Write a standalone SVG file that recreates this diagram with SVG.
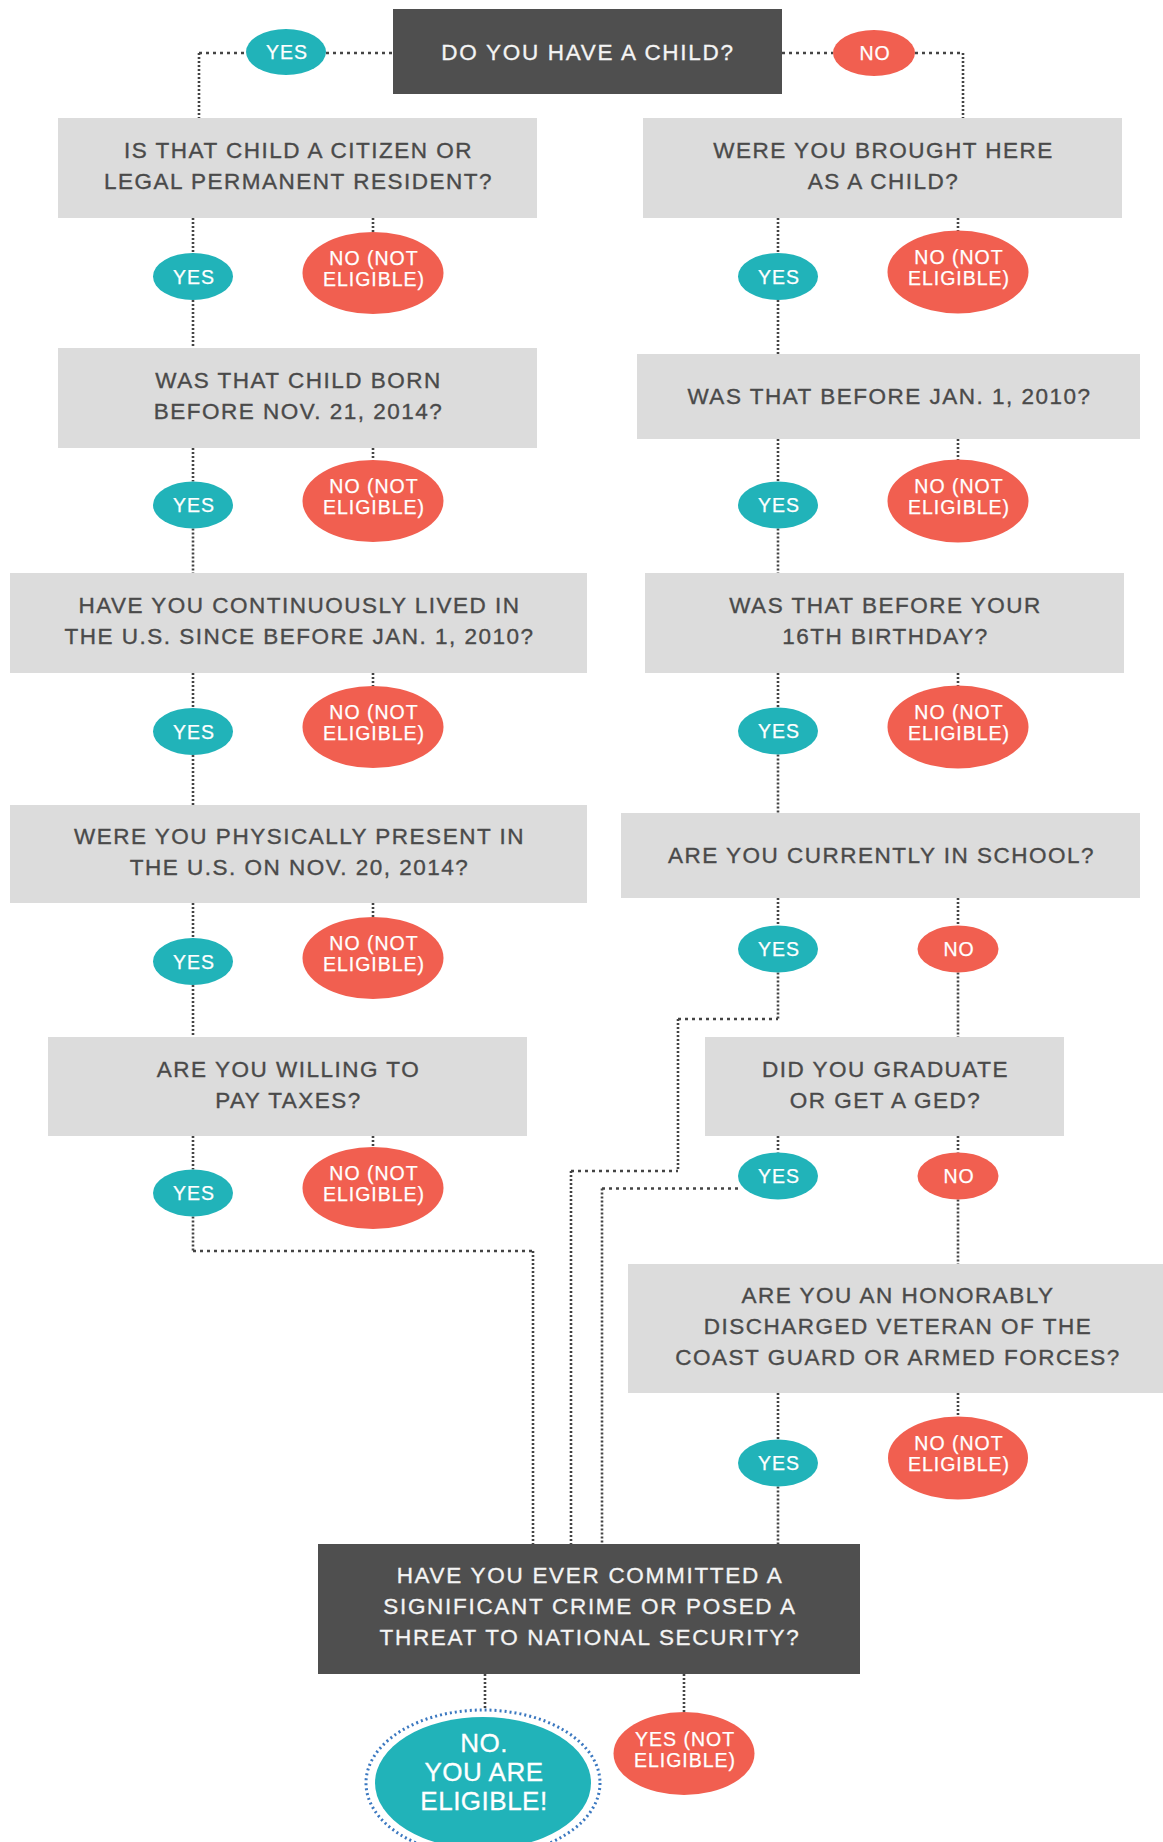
<svg xmlns="http://www.w3.org/2000/svg" width="1163" height="1842" viewBox="0 0 1163 1842">
<style>
text{font-family:"Liberation Sans",Arial,sans-serif;text-anchor:middle}
.q{fill:#dcdcdc}
.d{fill:#4f4f4f}
.qt{fill:#4a4a4a;stroke:#4a4a4a;stroke-width:0.35px;font-size:22.5px;letter-spacing:1.5px}
.dt{fill:#f4f4f4;stroke:#f4f4f4;stroke-width:0.3px;font-size:22.5px;letter-spacing:1.7px}
.y{fill:#21b3b9}
.n{fill:#f15f50}
.lt{fill:#ffffff;stroke:#ffffff;stroke-width:0.25px;font-size:19.5px;letter-spacing:1px}
.h{stroke:#444;stroke-width:2.6;stroke-dasharray:3 4;fill:none}
.v{stroke:#444;stroke-width:2.6;stroke-dasharray:2 2;fill:none}
.ring{fill:none;stroke:#3b78c0;stroke-width:3;stroke-dasharray:2 3}
.big{fill:#ffffff;stroke:#ffffff;stroke-width:0.3px;font-size:26px;letter-spacing:0.5px}
</style>
<rect width="1163" height="1842" fill="#ffffff"/>
<g id="connectors">
<line class="h" x1="199" y1="53" x2="246" y2="53"/>
<line class="h" x1="326" y1="53" x2="393" y2="53"/>
<line class="v" x1="199" y1="53" x2="199" y2="118"/>
<line class="h" x1="782" y1="53" x2="833" y2="53"/>
<line class="h" x1="915" y1="53" x2="963" y2="53"/>
<line class="v" x1="963" y1="53" x2="963" y2="118"/>
<line class="v" x1="193" y1="218" x2="193" y2="253"/>
<line class="v" x1="193" y1="300" x2="193" y2="348"/>
<line class="v" x1="373" y1="218" x2="373" y2="232"/>
<line class="v" x1="193" y1="448" x2="193" y2="481.5"/>
<line class="v" x1="193" y1="528.5" x2="193" y2="573"/>
<line class="v" x1="373" y1="448" x2="373" y2="460"/>
<line class="v" x1="193" y1="673" x2="193" y2="708"/>
<line class="v" x1="193" y1="755" x2="193" y2="805"/>
<line class="v" x1="373" y1="673" x2="373" y2="686"/>
<line class="v" x1="193" y1="903" x2="193" y2="938"/>
<line class="v" x1="193" y1="985" x2="193" y2="1037"/>
<line class="v" x1="373" y1="903" x2="373" y2="917"/>
<line class="v" x1="193" y1="1136" x2="193" y2="1169.5"/>
<line class="v" x1="373" y1="1136" x2="373" y2="1147"/>
<line class="v" x1="193" y1="1216.5" x2="193" y2="1251"/>
<line class="h" x1="193" y1="1251" x2="533" y2="1251"/>
<line class="v" x1="533" y1="1251" x2="533" y2="1544"/>
<line class="v" x1="778" y1="218" x2="778" y2="253"/>
<line class="v" x1="778" y1="300" x2="778" y2="354"/>
<line class="v" x1="958" y1="218" x2="958" y2="231"/>
<line class="v" x1="778" y1="439" x2="778" y2="481.5"/>
<line class="v" x1="778" y1="528.5" x2="778" y2="573"/>
<line class="v" x1="958" y1="439" x2="958" y2="460"/>
<line class="v" x1="778" y1="673" x2="778" y2="707.5"/>
<line class="v" x1="778" y1="754.5" x2="778" y2="813"/>
<line class="v" x1="958" y1="673" x2="958" y2="686"/>
<line class="v" x1="778" y1="898" x2="778" y2="925.5"/>
<line class="v" x1="958" y1="898" x2="958" y2="925.5"/>
<line class="v" x1="778" y1="972.5" x2="778" y2="1019"/>
<line class="h" x1="678" y1="1019" x2="778" y2="1019"/>
<line class="v" x1="678" y1="1019" x2="678" y2="1171"/>
<line class="h" x1="571" y1="1171" x2="678" y2="1171"/>
<line class="v" x1="571" y1="1171" x2="571" y2="1544"/>
<line class="v" x1="958" y1="972.5" x2="958" y2="1037"/>
<line class="v" x1="778" y1="1136" x2="778" y2="1152.5"/>
<line class="v" x1="958" y1="1136" x2="958" y2="1152.5"/>
<line class="h" x1="602" y1="1188.5" x2="740" y2="1188.5"/>
<line class="v" x1="602" y1="1188.5" x2="602" y2="1544"/>
<line class="v" x1="958" y1="1199.5" x2="958" y2="1264"/>
<line class="v" x1="778" y1="1393" x2="778" y2="1439.5"/>
<line class="v" x1="778" y1="1486.5" x2="778" y2="1544"/>
<line class="v" x1="958" y1="1393" x2="958" y2="1416.5"/>
<line class="v" x1="485" y1="1674" x2="485" y2="1710"/>
<line class="v" x1="684" y1="1674" x2="684" y2="1712"/>
</g>
<g id="q-child">
<rect class="d" x="393" y="9" width="389" height="85"/>
<text class="dt" x="588" y="60">DO YOU HAVE A CHILD?</text>
</g>
<g id="yes-child"><ellipse class="y" cx="286" cy="52" rx="40" ry="23"/><text class="lt" x="287" y="59">YES</text></g>
<g id="no-child"><ellipse class="n" cx="874" cy="53" rx="41" ry="23"/><text class="lt" x="875" y="60">NO</text></g>

<g id="q-citizen">
<rect class="q" x="58" y="118" width="479" height="100"/>
<text class="qt" x="298.5" y="158">IS THAT CHILD A CITIZEN OR</text>
<text class="qt" x="298.5" y="189">LEGAL PERMANENT RESIDENT?</text>
</g>
<g id="yes-1"><ellipse class="y" cx="193" cy="276.5" rx="40" ry="23.5"/><text class="lt" x="194" y="283.5">YES</text></g>
<g id="no-1"><ellipse class="n" cx="373" cy="273" rx="70.5" ry="41"/><text class="lt" x="374" y="265">NO (NOT</text><text class="lt" x="374" y="286">ELIGIBLE)</text></g>

<g id="q-born">
<rect class="q" x="58" y="348" width="479" height="100"/>
<text class="qt" x="298.5" y="388">WAS THAT CHILD BORN</text>
<text class="qt" x="298.5" y="419">BEFORE NOV. 21, 2014?</text>
</g>
<g id="yes-2"><ellipse class="y" cx="193" cy="505" rx="40" ry="23.5"/><text class="lt" x="194" y="512">YES</text></g>
<g id="no-2"><ellipse class="n" cx="373" cy="501" rx="70.5" ry="41"/><text class="lt" x="374" y="493">NO (NOT</text><text class="lt" x="374" y="514">ELIGIBLE)</text></g>

<g id="q-lived">
<rect class="q" x="10" y="573" width="577" height="100"/>
<text class="qt" x="299.5" y="613">HAVE YOU CONTINUOUSLY LIVED IN</text>
<text class="qt" x="299.5" y="644">THE U.S. SINCE BEFORE JAN. 1, 2010?</text>
</g>
<g id="yes-3"><ellipse class="y" cx="193" cy="731.5" rx="40" ry="23.5"/><text class="lt" x="194" y="738.5">YES</text></g>
<g id="no-3"><ellipse class="n" cx="373" cy="727" rx="70.5" ry="41"/><text class="lt" x="374" y="719">NO (NOT</text><text class="lt" x="374" y="740">ELIGIBLE)</text></g>

<g id="q-present">
<rect class="q" x="10" y="805" width="577" height="98"/>
<text class="qt" x="299.5" y="844">WERE YOU PHYSICALLY PRESENT IN</text>
<text class="qt" x="299.5" y="875">THE U.S. ON NOV. 20, 2014?</text>
</g>
<g id="yes-4"><ellipse class="y" cx="193" cy="961.5" rx="40" ry="23.5"/><text class="lt" x="194" y="968.5">YES</text></g>
<g id="no-4"><ellipse class="n" cx="373" cy="958" rx="70.5" ry="41"/><text class="lt" x="374" y="950">NO (NOT</text><text class="lt" x="374" y="971">ELIGIBLE)</text></g>

<g id="q-taxes">
<rect class="q" x="48" y="1037" width="479" height="99"/>
<text class="qt" x="288.5" y="1076.5">ARE YOU WILLING TO</text>
<text class="qt" x="288.5" y="1107.5">PAY TAXES?</text>
</g>
<g id="yes-5"><ellipse class="y" cx="193" cy="1193" rx="40" ry="23.5"/><text class="lt" x="194" y="1200">YES</text></g>
<g id="no-5"><ellipse class="n" cx="373" cy="1188" rx="70.5" ry="41"/><text class="lt" x="374" y="1180">NO (NOT</text><text class="lt" x="374" y="1201">ELIGIBLE)</text></g>

<g id="q-brought">
<rect class="q" x="643" y="118" width="479" height="100"/>
<text class="qt" x="883.5" y="158">WERE YOU BROUGHT HERE</text>
<text class="qt" x="883.5" y="189">AS A CHILD?</text>
</g>
<g id="yes-r1"><ellipse class="y" cx="778" cy="276.5" rx="40" ry="23.5"/><text class="lt" x="779" y="283.5">YES</text></g>
<g id="no-r1"><ellipse class="n" cx="958" cy="272" rx="70.5" ry="41.5"/><text class="lt" x="959" y="264">NO (NOT</text><text class="lt" x="959" y="285">ELIGIBLE)</text></g>

<g id="q-before2010">
<rect class="q" x="637" y="354" width="503" height="85"/>
<text class="qt" x="889.5" y="404">WAS THAT BEFORE JAN. 1, 2010?</text>
</g>
<g id="yes-r2"><ellipse class="y" cx="778" cy="505" rx="40" ry="23.5"/><text class="lt" x="779" y="512">YES</text></g>
<g id="no-r2"><ellipse class="n" cx="958" cy="501" rx="70.5" ry="41.5"/><text class="lt" x="959" y="493">NO (NOT</text><text class="lt" x="959" y="514">ELIGIBLE)</text></g>

<g id="q-16th">
<rect class="q" x="645" y="573" width="479" height="100"/>
<text class="qt" x="885.5" y="613">WAS THAT BEFORE YOUR</text>
<text class="qt" x="885.5" y="644">16TH BIRTHDAY?</text>
</g>
<g id="yes-r3"><ellipse class="y" cx="778" cy="731" rx="40" ry="23.5"/><text class="lt" x="779" y="738">YES</text></g>
<g id="no-r3"><ellipse class="n" cx="958" cy="727" rx="70.5" ry="41.5"/><text class="lt" x="959" y="719">NO (NOT</text><text class="lt" x="959" y="740">ELIGIBLE)</text></g>

<g id="q-school">
<rect class="q" x="621" y="813" width="519" height="85"/>
<text class="qt" x="881.5" y="863">ARE YOU CURRENTLY IN SCHOOL?</text>
</g>
<g id="yes-r4"><ellipse class="y" cx="778" cy="949" rx="40" ry="23.5"/><text class="lt" x="779" y="956">YES</text></g>
<g id="no-r4"><ellipse class="n" cx="958" cy="949" rx="40.5" ry="23.5"/><text class="lt" x="959" y="956">NO</text></g>

<g id="q-ged">
<rect class="q" x="705" y="1037" width="359" height="99"/>
<text class="qt" x="885.5" y="1076.5">DID YOU GRADUATE</text>
<text class="qt" x="885.5" y="1107.5">OR GET A GED?</text>
</g>
<g id="yes-ged"><ellipse class="y" cx="778" cy="1176" rx="40" ry="23.5"/><text class="lt" x="779" y="1183">YES</text></g>
<g id="no-ged"><ellipse class="n" cx="958" cy="1176" rx="40.5" ry="23.5"/><text class="lt" x="959" y="1183">NO</text></g>

<g id="q-veteran">
<rect class="q" x="628" y="1264" width="535" height="129"/>
<text class="qt" x="898" y="1302.5">ARE YOU AN HONORABLY</text>
<text class="qt" x="898" y="1333.5">DISCHARGED VETERAN OF THE</text>
<text class="qt" x="898" y="1364.5">COAST GUARD OR ARMED FORCES?</text>
</g>
<g id="yes-vet"><ellipse class="y" cx="778" cy="1463" rx="40" ry="23.5"/><text class="lt" x="779" y="1470">YES</text></g>
<g id="no-vet"><ellipse class="n" cx="958" cy="1458" rx="70" ry="41.5"/><text class="lt" x="959" y="1450">NO (NOT</text><text class="lt" x="959" y="1471">ELIGIBLE)</text></g>

<g id="q-crime">
<rect class="d" x="318" y="1544" width="542" height="130"/>
<text class="dt" x="590" y="1583">HAVE YOU EVER COMMITTED A</text>
<text class="dt" x="590" y="1614">SIGNIFICANT CRIME OR POSED A</text>
<text class="dt" x="590" y="1645">THREAT TO NATIONAL SECURITY?</text>
</g>
<g id="eligible">
<ellipse class="ring" cx="483" cy="1783" rx="117" ry="73"/>
<ellipse class="y" cx="483" cy="1783" rx="108" ry="66"/>
<text class="big" x="484" y="1752">NO.</text>
<text class="big" x="484" y="1781">YOU ARE</text>
<text class="big" x="484" y="1810">ELIGIBLE!</text>
</g>
<g id="not-eligible"><ellipse class="n" cx="684" cy="1753.5" rx="70.5" ry="41.5"/><text class="lt" x="685" y="1746">YES (NOT</text><text class="lt" x="685" y="1767">ELIGIBLE)</text></g>
</svg>
